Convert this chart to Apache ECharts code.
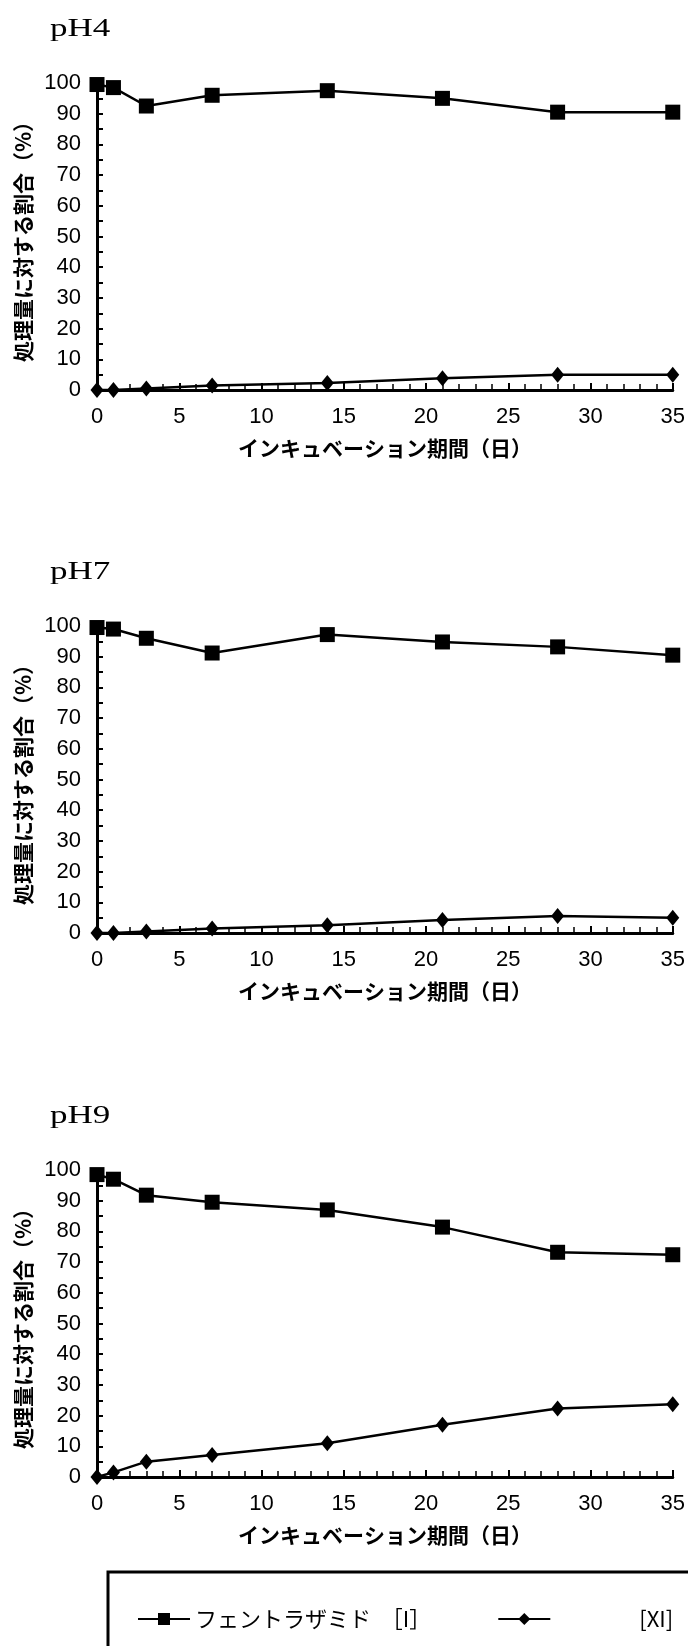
<!DOCTYPE html>
<html>
<head>
<meta charset="utf-8">
<script src="https://cdn.jsdelivr.net/npm/echarts@6/dist/echarts.min.js"></script>
<style>
  html, body { margin: 0; padding: 0; background: #fff; }
  #main { width: 688px; height: 1646px; }
</style>
</head>
<body>
<div id="main"></div>
<script>
// インキュベーション期間（日）
const days = [0, 1, 3, 7, 14, 21, 28, 35];
const panelNames = ["pH4", "pH7", "pH9"];
const xTicks = ["0", "5", "10", "15", "20", "25", "30", "35"];

// フェントラザミド [I]
const fentPH4 = [99.5, 98.5, 92.5, 96, 97.5, 95, 90.5, 90.5];
const fentPH7 = [99.5, 99, 96, 91.2, 97.2, 94.8, 93.2, 90.5];
const fentPH9 = [98.5, 97, 91.8, 89.5, 87, 81.4, 73.2, 72.4];

// [XI]
const xiPH4 = [0, 0, 0.5, 1.5, 2.3, 3.8, 5, 5];
const xiPH7 = [0, 0, 0.5, 1.5, 2.5, 4.2, 5.5, 5];
const xiPH9 = [0, 1.5, 5, 7.2, 11, 17, 22.3, 23.7];

const nameI = "フェントラザミド  ［I］";
const nameXI = "[XI]";

const myChart = echarts.init(document.getElementById("main"));

const gridTops = [83, 626, 1170];
const numFont = "'Liberation Sans Narrow', 'Liberation Sans', sans-serif";
const jpFont = "'Noto Sans CJK JP', sans-serif";

const grids = [];
const xAxes = [];
const yAxes = [];
const series = [];
const graphics = [];

const fentData = [fentPH4, fentPH7, fentPH9];
const xiData = [xiPH4, xiPH7, xiPH9];

gridTops.forEach(function (top, k) {
  grids.push({ left: 97, width: 576, top: top, height: 307 });
  xAxes.push({
    gridIndex: k,
    type: "value",
    min: 0,
    max: 35,
    interval: 5,
    name: "インキュベーション期間（日）",
    nameLocation: "middle",
    nameGap: 48,
    nameTextStyle: { color: "#000", fontFamily: jpFont, fontWeight: "bold", fontSize: 21 },
    axisLine: { lineStyle: { color: "#000", width: 3 } },
    axisTick: { inside: true, length: 7, lineStyle: { color: "#000", width: 2 } },
    minorTick: { show: true, splitNumber: 5, length: 6, lineStyle: { color: "#000", width: 1.5 } },
    splitLine: { show: false },
    axisLabel: {
      color: "#000",
      fontFamily: numFont,
      fontSize: 22,
      margin: 16,
      formatter: function (v) { return xTicks[v / 5]; },
    },
  });
  yAxes.push({
    gridIndex: k,
    type: "value",
    min: 0,
    max: 100,
    interval: 10,
    name: "処理量に対する割合（%）",
    nameLocation: "middle",
    nameRotate: 90,
    nameGap: 58,
    nameTextStyle: { color: "#000", fontFamily: jpFont, fontWeight: "bold", fontSize: 21 },
    axisLine: { show: true, lineStyle: { color: "#000", width: 3 } },
    axisTick: { show: true, inside: true, length: 6, lineStyle: { color: "#000", width: 2 } },
    minorTick: { show: true, splitNumber: 2, length: 6, lineStyle: { color: "#000", width: 2 } },
    splitLine: { show: false },
    axisLabel: { color: "#000", fontFamily: numFont, fontSize: 22, margin: 16 },
  });
  series.push({
    name: nameI,
    type: "line",
    xAxisIndex: k,
    yAxisIndex: k,
    data: days.map(function (d, i) { return [d, fentData[k][i]]; }),
    symbol: "rect",
    symbolSize: 15,
    itemStyle: { color: "#000" },
    lineStyle: { color: "#000", width: 2.5 },
  });
  series.push({
    name: nameXI,
    type: "line",
    xAxisIndex: k,
    yAxisIndex: k,
    data: days.map(function (d, i) { return [d, xiData[k][i]]; }),
    symbol: "diamond",
    symbolSize: [13, 16],
    itemStyle: { color: "#000" },
    lineStyle: { color: "#000", width: 2.5 },
  });
  graphics.push({
    type: "text",
    x: 50,
    y: top - 66,
    scaleX: 1.4,
    style: {
      text: panelNames[k],
      font: "25px 'Liberation Serif', serif",
      fill: "#000",
      verticalAlign: "top",
    },
  });
});

// 凡例の枠
graphics.push({
  type: "rect",
  shape: { x: 108, y: 1572, width: 600, height: 120 },
  style: { fill: "none", stroke: "#000", lineWidth: 3 },
});

const option = {
  backgroundColor: "#fff",
  animation: false,
  grid: grids,
  xAxis: xAxes,
  yAxis: yAxes,
  series: series,
  graphic: graphics,
  legend: {
    data: [nameI, nameXI],
    left: 132,
    top: 1603,
    itemWidth: 52,
    itemHeight: 15,
    itemGap: 66,
    textStyle: {
      color: "#000",
      fontFamily: jpFont,
      fontSize: 22,
      rich: { p: { padding: [0, 0, 0, 84], fontFamily: jpFont, fontSize: 22, color: "#000" } },
    },
    formatter: function (name) {
      return name === nameXI ? "{p|" + name + "}" : name;
    },
  },
};

myChart.setOption(option);
</script>
</body>
</html>
